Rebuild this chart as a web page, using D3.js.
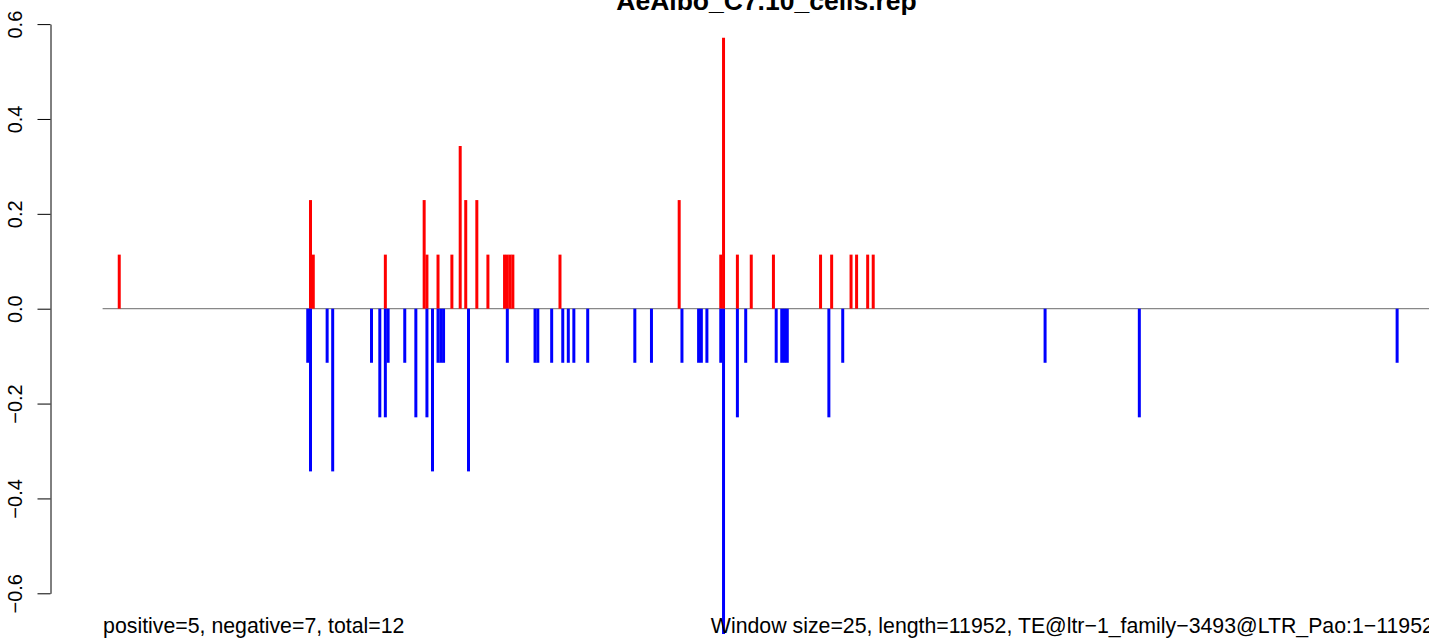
<!DOCTYPE html>
<html>
<head>
<meta charset="utf-8">
<script src="https://cdn.jsdelivr.net/npm/d3@7"></script>
<style>
  html, body { margin: 0; padding: 0; background: #fff; }
  svg { display: block; font-family: "Liberation Sans", Arial, Helvetica, sans-serif; }
</style>
</head>
<body>
<script>
// window index (25 bp windows) and score of each bar
const posWindows = [7, 76, 77, 103, 117, 118, 122, 127, 130, 132, 136, 140, 146, 147, 148, 149,
    166, 209, 224, 225, 230, 235, 243, 260, 264, 271, 273, 277, 279];
const posValues = [0.114, 0.229, 0.114, 0.114, 0.229, 0.114, 0.114, 0.114, 0.343, 0.229, 0.229, 0.114,
    0.114, 0.114, 0.114, 0.114, 0.114, 0.229, 0.114, 0.571, 0.114, 0.114, 0.114, 0.114, 0.114,
    0.114, 0.114, 0.114, 0.114];

const negWindows = [75, 76, 82, 84, 98, 101, 103, 104, 110, 114, 118, 120, 122, 123, 124, 133,
    147, 157, 158, 163, 167, 169, 171, 176, 193, 199, 210, 216, 217, 219, 224, 225, 230, 233,
    244, 246, 247, 248, 263, 268, 341, 375, 468];
const negValues = [-0.114, -0.343, -0.114, -0.343, -0.114, -0.229, -0.229, -0.114, -0.114, -0.229,
    -0.229, -0.343, -0.114, -0.114, -0.114, -0.343, -0.114, -0.114, -0.114, -0.114, -0.114,
    -0.114, -0.114, -0.114, -0.114, -0.114, -0.114, -0.114, -0.114, -0.114, -0.114, -0.686,
    -0.229, -0.114, -0.114, -0.114, -0.114, -0.114, -0.229, -0.114, -0.114, -0.229, -0.114];

const yTicks = [-0.6, -0.4, -0.2, 0.0, 0.2, 0.4, 0.6];
const nWindows = 480;

const title = 'AeAlbo_C7.10_cells.rep';
const leftNote = 'positive=5, negative=7, total=12';
const rightNote = 'Window size=25, length=11952, TE@ltr\u22121_family\u22123493@LTR_Pao:1\u221211952';

const width = 1429, height = 641;

// X (R style 4% padding)
const pad = 0.04 * (nWindows - 1);
const x = d3.scaleLinear()
    .domain([1 - pad, nWindows + pad])
    .range([49.5, 1483.5]);

// Y
const y = d3.scaleLinear()
    .domain([-0.6, 0.6])
    .range([593.3, 24.1]);

const svg = d3.select('body').append('svg')
    .attr('width', width)
    .attr('height', height);

svg.append('rect')
    .attr('width', width)
    .attr('height', height)
    .attr('fill', '#fff');

// zero line
svg.append('line')
    .attr('x1', x(1))
    .attr('x2', x(nWindows))
    .attr('y1', y(0))
    .attr('y2', y(0))
    .attr('stroke', '#888')
    .attr('stroke-width', 1.3);

// bars
const pos = posWindows.map((w, i) => ({ w, v: posValues[i] }));
const neg = negWindows.map((w, i) => ({ w, v: negValues[i] }));

svg.append('g').selectAll('line')
    .data(pos)
    .join('line')
    .attr('x1', d => x(d.w))
    .attr('x2', d => x(d.w))
    .attr('y1', y(0))
    .attr('y2', d => y(d.v))
    .attr('stroke', '#ff0000')
    .attr('stroke-width', 3);

svg.append('g').selectAll('line')
    .data(neg)
    .join('line')
    .attr('x1', d => x(d.w))
    .attr('x2', d => x(d.w))
    .attr('y1', y(0))
    .attr('y2', d => y(d.v))
    .attr('stroke', '#0000ff')
    .attr('stroke-width', 3);

// Axis
const axis = svg.append('g')
    .attr('transform', 'translate(50.5,0)')
    .call(d3.axisLeft(y)
        .tickValues(yTicks)
        .tickSize(13)
        .tickSizeOuter(0)
        .tickFormat(d => d3.format('.1f')(d).replace('-', '\u2212')));

axis.select('.domain').attr('stroke', '#000');
axis.selectAll('.tick line').attr('stroke', '#000');
axis.selectAll('.tick text')
    .attr('x', 0)
    .attr('dy', 0)
    .attr('transform', 'translate(-28.8,0) rotate(-90)')
    .attr('text-anchor', 'middle')
    .attr('fill', '#000')
    .style('font-size', '20px')
    .style('font-family', '"Liberation Sans", Arial, sans-serif');

// Title (top is clipped by the page edge, as in the original)
svg.append('text')
    .attr('x', (x.range()[0] + x.range()[1]) / 2)
    .attr('y', 10)
    .attr('text-anchor', 'middle')
    .style('font-size', '26.5px')
    .style('font-weight', 'bold')
    .text(title);

// notes under the plot
svg.append('text')
    .attr('x', x(1) + 0.5)
    .attr('y', 633)
    .attr('text-anchor', 'start')
    .style('font-size', '21.3px')
    .text(leftNote);

svg.append('text')
    .attr('x', x(nWindows) + 3.5)
    .attr('y', 633)
    .attr('text-anchor', 'end')
    .style('font-size', '21.3px')
    .text(rightNote);
</script>
</body>
</html>
